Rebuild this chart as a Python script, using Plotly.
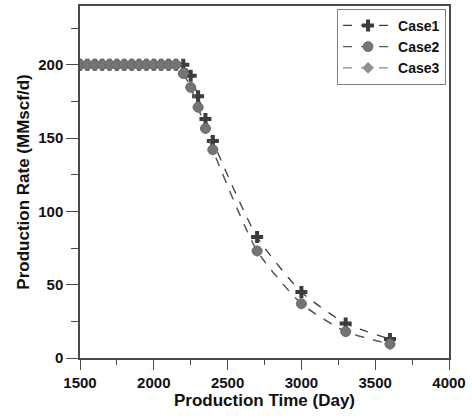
import plotly.graph_objects as go

flat_days = [1500, 1550, 1600, 1650, 1700, 1750, 1800, 1850, 1900, 1950, 2000, 2050, 2100, 2150]
decline_days = [2200, 2250, 2300, 2350, 2400, 2700, 3000, 3300, 3600]
days = flat_days + decline_days

case1 = [200] * len(flat_days) + [200, 192.5, 178.5, 163, 148, 82.5, 45, 23.5, 13]
case2 = [200] * len(flat_days) + [194, 184.5, 171, 156.5, 142, 73, 37, 18, 9.5]
case3 = [200] * len(flat_days) + [194, 184.5, 171, 156.5, 142, 73, 37, 18, 9.5]

x_ticks = [1500, 2000, 2500, 3000, 3500, 4000]
y_ticks = [0, 50, 100, 150, 200]

FONT = "Liberation Sans, Arial, sans-serif"

fig = go.Figure()
fig.add_trace(go.Scatter(
    x=days, y=case1, name="Case1", mode="lines+markers",
    line=dict(color="#3c3c3c", width=1.3, dash="dash", shape="spline", smoothing=0.6),
    marker=dict(symbol="cross", size=10, color="#3c3c3c", line=dict(width=0)),
))
fig.add_trace(go.Scatter(
    x=days, y=case3, name="Case3", mode="lines+markers", showlegend=False,
    line=dict(color="#8a8a8a", width=1.3, dash="dash", shape="spline", smoothing=0.6),
    marker=dict(symbol="diamond", size=9, color="#8f8f8f"),
))
fig.add_trace(go.Scatter(
    x=days, y=case2, name="Case2", mode="lines+markers",
    line=dict(color="#5a5a5a", width=1.3, dash="dash", shape="spline", smoothing=0.6),
    marker=dict(symbol="circle", size=10, color="#747474", line=dict(color="#666666", width=0.8)),
))
# legend-only entry for Case3 so order matches reference
fig.add_trace(go.Scatter(
    x=[None], y=[None], name="Case3", mode="lines+markers",
    line=dict(color="#8a8a8a", width=1.3, dash="dash"),
    marker=dict(symbol="diamond", size=9, color="#8f8f8f"),
))

axis_common = dict(
    showgrid=False, zeroline=False, showline=True, mirror=True,
    linecolor="#4a4a4a", linewidth=1.5,
    ticks="outside", tickcolor="#4a4a4a", tickwidth=1.2,
    tickfont=dict(family=FONT, size=15, color="#111111", weight="bold"),
)

fig.update_layout(
    width=472, height=420,
    margin=dict(l=80, r=23, t=4, b=62),
    paper_bgcolor="white", plot_bgcolor="white",
    font=dict(family=FONT, color="#111111"),
    xaxis=dict(
        range=[1500, 4000], tickvals=x_ticks, ticklen=10,
        minor=dict(dtick=250, ticks="outside", ticklen=5, tickcolor="#4a4a4a", tickwidth=1.2),
        title=dict(text="Production Time (Day)", font=dict(family=FONT, size=17, weight="bold"), standoff=4),
        **axis_common,
    ),
    yaxis=dict(
        range=[0, 240], tickvals=y_ticks, ticklen=12,
        minor=dict(dtick=25, ticks="outside", ticklen=7, tickcolor="#4a4a4a", tickwidth=1.2),
        title=dict(text="Production Rate (MMscf/d)", font=dict(family=FONT, size=17, weight="bold"), standoff=4),
        **axis_common,
    ),
    legend=dict(
        x=0.992, y=0.992, xanchor="right", yanchor="top",
        bordercolor="#808080", borderwidth=1, bgcolor="white",
        font=dict(family=FONT, size=14, color="#111111", weight="bold"),
        tracegroupgap=0, itemwidth=50,
    ),
)

fig.write_html("out.html")
